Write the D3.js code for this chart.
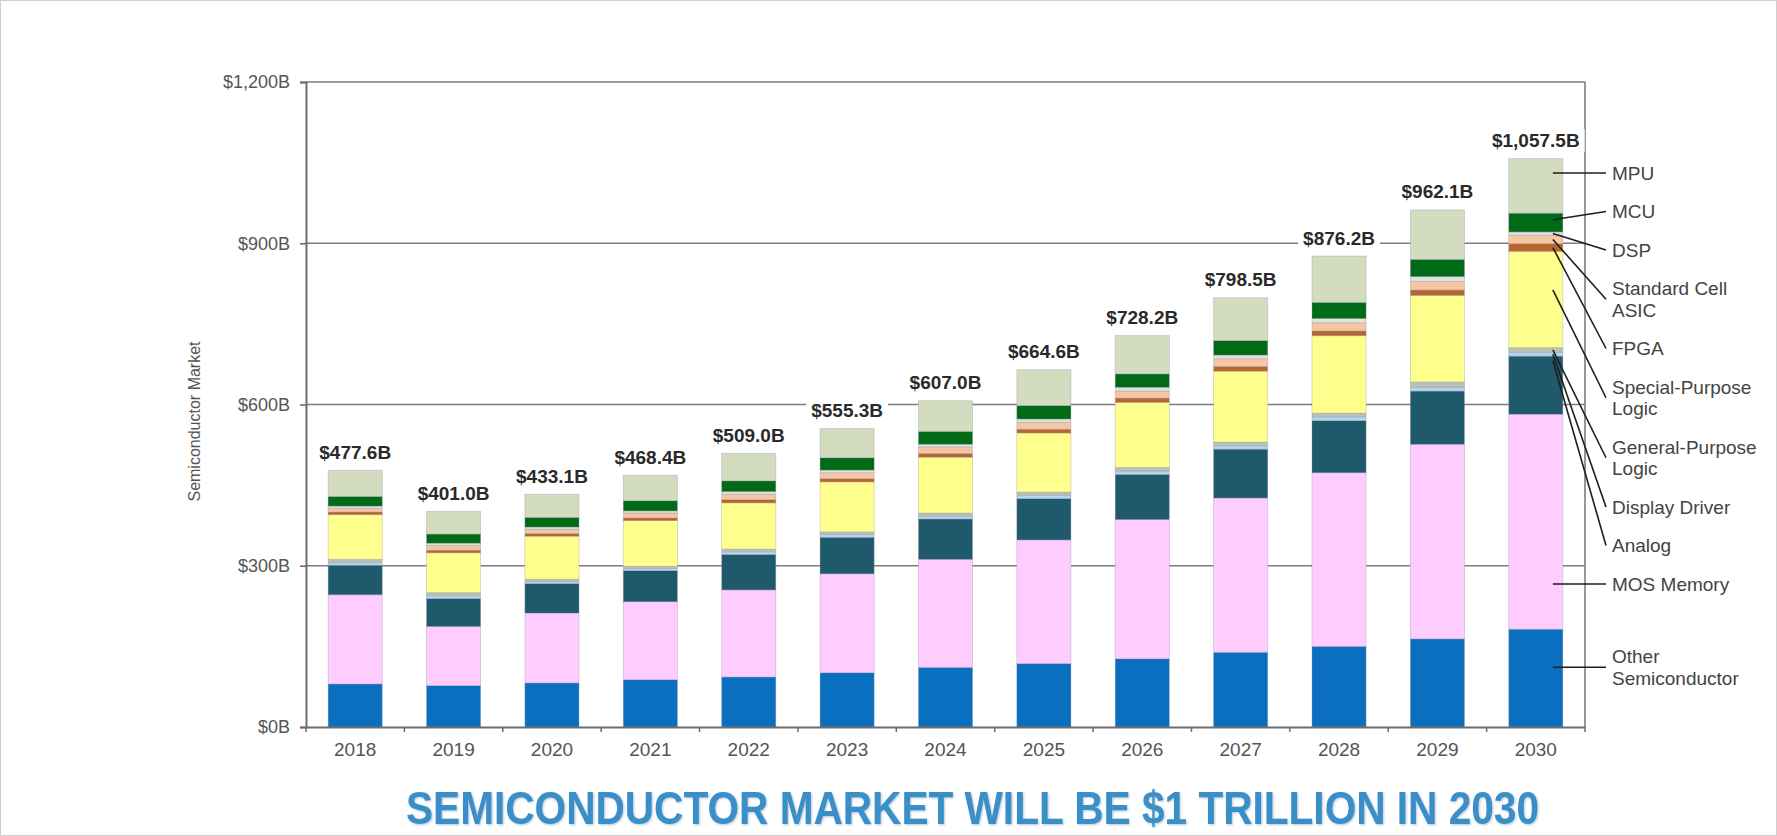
<!DOCTYPE html>
<html>
<head>
<meta charset="utf-8">
<script src="https://cdn.jsdelivr.net/npm/d3@7"></script>
<style>
  html, body { margin: 0; padding: 0; background: #fff; }
  svg { display: block; font-family: "Liberation Sans", Arial, sans-serif; }
</style>
</head>
<body>
<svg id="chart" width="1777" height="836"></svg>
<script>
// ---------------- DATA ----------------
const years = ["2018","2019","2020","2021","2022","2023","2024","2025","2026","2027","2028","2029","2030"];
const totals = [477.6, 401.0, 433.1, 468.4, 509.0, 555.3, 607.0, 664.6, 728.2, 798.5, 876.2, 962.1, 1057.5];
const totalLabels = ["$477.6B","$401.0B","$433.1B","$468.4B","$509.0B","$555.3B","$607.0B","$664.6B","$728.2B","$798.5B","$876.2B","$962.1B","$1,057.5B"];

// series, bottom to top ($B)
const otherSemi     = [80, 77, 82, 88, 93, 101, 111, 118, 127, 139, 150, 164, 182];
const mosMemory     = [166, 110, 130, 145, 162, 184, 201, 230, 259, 287, 323, 362, 400];
const analog        = [55, 52, 55, 58, 66, 68, 75, 77, 84, 91, 97, 99, 108];
const displayDriver = [5, 5, 4, 4, 5, 5, 5, 6, 6, 6, 7, 7, 7];
const gpLogic       = [6, 6, 4, 4, 5, 5, 6, 6, 7, 7, 7, 10, 9];
const spLogic       = [83, 74, 80, 85, 86, 93, 104, 110, 121, 132, 144, 161, 179];
const fpga          = [5, 5, 5, 5, 6, 6, 7, 7, 8, 9, 9, 10, 14];
const stdCellAsic   = [7, 9, 8, 9, 10, 11, 12, 13, 13, 14, 15, 16, 16];
const dsp           = [4, 4, 4, 4, 5, 5, 5, 6, 7, 7, 8, 9, 6];
const mcu           = [18, 17, 18, 19, 20, 23, 24, 25, 25, 27, 30, 32, 35];
const mpu           = [48.6, 42.0, 43.1, 47.4, 51.0, 54.3, 57.0, 66.6, 71.2, 79.5, 86.2, 92.1, 101.5];

const seriesNames = ["Other Semiconductor","MOS Memory","Analog","Display Driver","General-Purpose Logic",
  "Special-Purpose Logic","FPGA","Standard Cell ASIC","DSP","MCU","MPU"];
const seriesValues = [otherSemi, mosMemory, analog, displayDriver, gpLogic, spLogic, fpga, stdCellAsic, dsp, mcu, mpu];
const seriesColors = ["#0b6fc0","#ffccff","#1e5a6b","#b3d6ee","#b9c1b3","#ffff8e","#b9652f","#f6c6a2","#dfe3d9","#006a17","#d4dcc0"];

// legend labels, top to bottom
const legendLabels = [["MPU"],["MCU"],["DSP"],["Standard  Cell","ASIC"],["FPGA"],["Special-Purpose","Logic"],
  ["General-Purpose","Logic"],["Display Driver"],["Analog"],["MOS Memory"],["Other","Semiconductor"]];
const legendSeries = ["MPU","MCU","DSP","Standard Cell ASIC","FPGA","Special-Purpose Logic",
  "General-Purpose Logic","Display Driver","Analog","MOS Memory","Other Semiconductor"];

const yTicks = [0, 300, 600, 900, 1200];
const yTickLabels = ["$0B","$300B","$600B","$900B","$1,200B"];
const yAxisTitle = "Semiconductor Market";
const chartTitle = "SEMICONDUCTOR MARKET WILL BE $1 TRILLION IN 2030";

// ---------------- LAYOUT ----------------
const L = 306, R = 1585, T = 82, B = 727;
const svg = d3.select("#chart");
svg.append("rect").attr("x",0.5).attr("y",0.5).attr("width",1776).attr("height",835)
  .attr("fill","#fff").attr("stroke","#d0d0d0");

const x = d3.scaleBand().domain(years).range([L, R]).paddingInner(0.45).paddingOuter(0.225);
const y = d3.scaleLinear().domain([0, 1200]).range([B, T]);

const rows = years.map((yr, i) => {
  const r = { year: yr };
  seriesNames.forEach((n, k) => r[n] = seriesValues[k][i]);
  return r;
});
const stacked = d3.stack().keys(seriesNames)(rows);
const colorOf = d3.scaleOrdinal().domain(seriesNames).range(seriesColors);

// gridlines
svg.append("g").selectAll("line").data(yTicks.filter(v => v > 0)).join("line")
  .attr("x1", L).attr("x2", R).attr("y1", d => y(d)).attr("y2", d => y(d))
  .attr("stroke", "#7d7d7d").attr("stroke-width", 1.6);
// right frame
svg.append("line").attr("x1", R).attr("x2", R).attr("y1", T).attr("y2", B)
  .attr("stroke", "#7d7d7d").attr("stroke-width", 1.6);

// bars
svg.append("g").selectAll("g").data(stacked).join("g")
  .attr("fill", d => colorOf(d.key))
  .selectAll("rect").data(d => d).join("rect")
  .attr("x", d => x(d.data.year))
  .attr("width", x.bandwidth())
  .attr("y", d => y(d[1]))
  .attr("height", d => Math.max(0, y(d[0]) - y(d[1])))
  .attr("stroke", "rgba(150,150,170,0.45)").attr("stroke-width", 0.8);

// y axis
const yAxis = svg.append("g").attr("transform", `translate(${L},0)`)
  .call(d3.axisLeft(y).tickValues(yTicks).tickSize(6).tickPadding(10)
    .tickFormat((d, i) => yTickLabels[i]));
yAxis.select(".domain").attr("stroke", "#6d6d6d").attr("stroke-width", 2);
yAxis.selectAll(".tick line").attr("stroke", "#6d6d6d").attr("stroke-width", 1.6);
yAxis.selectAll("text").attr("font-size", 18).attr("fill", "#555")
  .attr("font-family", "'Liberation Sans', Arial, sans-serif");

// x axis
const xAxis = svg.append("g").attr("transform", `translate(0,${B})`)
  .call(d3.axisBottom(x).tickSize(0).tickPadding(16));
xAxis.select(".domain").attr("stroke", "#6d6d6d").attr("stroke-width", 2);
xAxis.selectAll("text").attr("font-size", 19).attr("fill", "#555")
  .attr("font-family", "'Liberation Sans', Arial, sans-serif");
const step = x.step();
const bounds = d3.range(years.length + 1).map(i => L + i * step);
svg.append("g").selectAll("line").data(bounds).join("line")
  .attr("x1", d => d).attr("x2", d => d).attr("y1", B).attr("y2", B + 5)
  .attr("stroke", "#6d6d6d").attr("stroke-width", 1.5);

// total labels
const tl = svg.append("g");
years.forEach((yr, i) => {
  const cx = x(yr) + x.bandwidth() / 2;
  const cy = y(totals[i]) - 18;
  const t = tl.append("text").attr("x", cx).attr("y", cy)
    .attr("text-anchor", "middle").attr("dominant-baseline", "central")
    .attr("font-size", 19).attr("font-weight", "bold").attr("fill", "#2a2a2a")
    .text(totalLabels[i]);
  const bb = t.node().getBBox();
  tl.insert("rect", () => t.node()).attr("x", bb.x - 5).attr("y", bb.y - 1)
    .attr("width", bb.width + 10).attr("height", bb.height + 2).attr("fill", "#fff");
});

// y axis title
svg.append("text").attr("transform", `translate(194,${(T + B) / 2 + 17}) rotate(-90)`)
  .attr("text-anchor", "middle").attr("dominant-baseline", "central")
  .attr("font-size", 16).attr("fill", "#555").text(yAxisTitle);

// legend with leader lines to the last bar
const lastIdx = years.length - 1;
const lastYear = years[lastIdx];
const lx = 1612, lineH = 21.5, itemGap = 38.5;
const anchorFrac = { "MCU": 0.65, "DSP": 0.5, "Standard Cell ASIC": 0.5, "FPGA": 0.5,
  "Special-Purpose Logic": 0.6, "General-Purpose Logic": 0.5, "Display Driver": 0.5, "Analog": 0.92 };
const horizontal = new Set(["MPU", "MOS Memory", "Other Semiconductor"]);
let cur = 173;
const lg = svg.append("g");
legendLabels.forEach((lines, k) => {
  if (k === legendLabels.length - 1) cur += 34;
  const first = cur;
  lines.forEach((ln, j) => {
    lg.append("text").attr("x", lx).attr("y", first + j * lineH)
      .attr("dominant-baseline", "central").attr("font-size", 19).attr("fill", "#444")
      .text(ln);
  });
  const mid = first + (lines.length - 1) * lineH / 2;
  const name = legendSeries[k];
  const layer = stacked.find(s => s.key === name)[lastIdx];
  const sx = x(lastYear) + x.bandwidth() - 10;
  let sy;
  if (horizontal.has(name)) sy = mid;
  else sy = y(layer[1] - (layer[1] - layer[0]) * (1 - anchorFrac[name]));
  lg.append("line").attr("x1", sx).attr("y1", sy).attr("x2", lx - 6).attr("y2", mid)
    .attr("stroke", "#1e1e1e").attr("stroke-width", 1.6);
  cur = first + (lines.length - 1) * lineH + itemGap;
});

// title
svg.append("text").attr("x", 406).attr("y", 824)
  .attr("font-size", 46).attr("font-weight", "bold").attr("fill", "#3b8fc8")
  .attr("textLength", 1133).attr("lengthAdjust", "spacingAndGlyphs")
  .style("filter", "drop-shadow(1px 1px 1px rgba(40,90,140,0.35))")
  .text(chartTitle);
</script>
</body>
</html>
